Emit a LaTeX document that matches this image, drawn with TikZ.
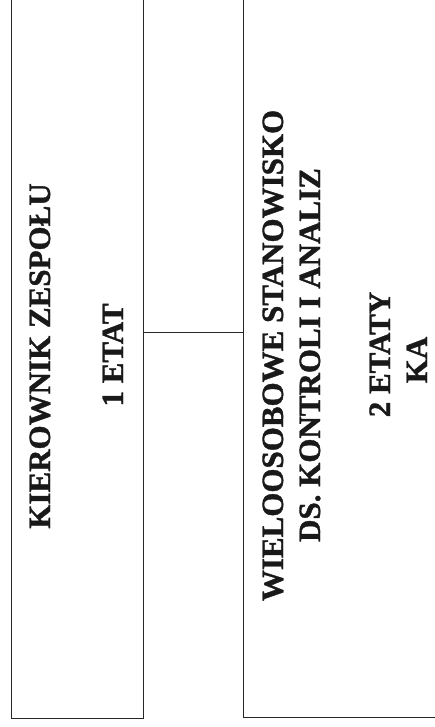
\documentclass[tikz,border=0pt]{standalone}
\usepackage{fontspec}
\setmainfont{Liberation Serif}
\newfontfamily\boldserif{Liberation Serif Bold}[FakeBold=1.2]
\begin{document}
\begin{tikzpicture}[x=1pt,y=-1pt,
  box/.style={draw=black!85, line width=0.9pt, rectangle, inner sep=0pt},
  label/.style={rotate=90, anchor=base, inner sep=0pt, font=\boldserif\fontsize{31}{36}\selectfont, text=black!90},
  conn/.style={draw=black!85, line width=0.9pt}]
\useasboundingbox (0,0) rectangle (435,727);
\clip (0,0) rectangle (435,727);
\node[box, minimum width=132pt, minimum height=738pt] (left) at (77,349) {};
\node[box, minimum width=217pt, minimum height=737pt] (right) at (351.5,348.5) {};
\coordinate (c) at (0,332);
\draw[conn] (left.east |- c) -- (right.west |- c);
\node[label] (t1) at (50,356) {KIEROWNIK ZESPOŁU};
\node[label] (t2) at (123,355) {1 ETAT};
\node[label] (t3) at (283,355.5) {WIELOOSOBOWE STANOWISKO};
\node[label] (t4) at (320,355) {DS. KONTROLI I ANALIZ};
\node[label] (t5) at (390,354.5) {2 ETATY};
\node[label] (t6) at (427,360) {KA};
\end{tikzpicture}
\end{document}
